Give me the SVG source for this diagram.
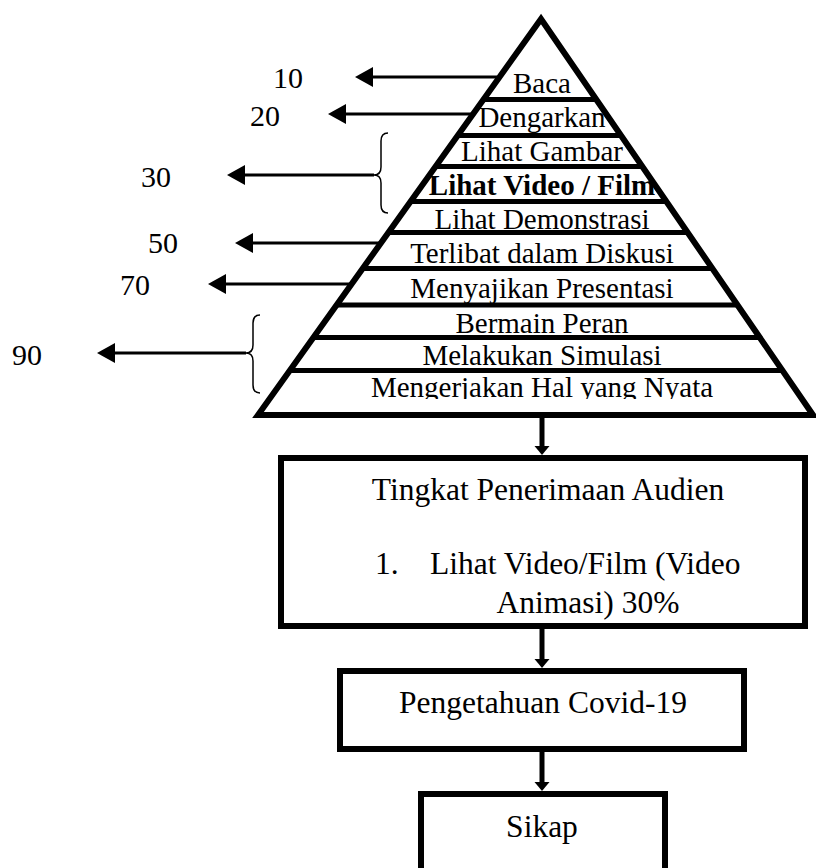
<svg xmlns="http://www.w3.org/2000/svg" width="816" height="868" viewBox="0 0 816 868">
<style>
text{font-family:"Liberation Serif","Times New Roman",serif;fill:#000}
.pt{font-size:29px;text-anchor:middle}
.bt{font-size:31.5px}
.num{font-size:30px;text-anchor:middle}
.band{stroke:#000;stroke-width:5;fill:none}
.box{fill:#fff;stroke:#000;stroke-width:6}
.arr{stroke:#000;stroke-width:3;fill:none;marker-end:url(#ah)}
.darr{stroke:#000;stroke-width:5;fill:none;marker-end:url(#dh)}
.brace{stroke:#000;stroke-width:1.5;fill:none}
</style>
<defs>
<marker id="ah" markerUnits="userSpaceOnUse" markerWidth="18" markerHeight="20" refX="0" refY="10" orient="auto" overflow="visible"><path d="M0,0 L18,10 L0,20 z" fill="#000"/></marker>
<marker id="dh" markerUnits="userSpaceOnUse" markerWidth="9" markerHeight="15" refX="0" refY="7.5" orient="auto" overflow="visible"><path d="M0,0 L9,7.5 L0,15 z" fill="#000"/></marker>
<clipPath id="lastClip"><rect x="250" y="372" width="570" height="27"/></clipPath>
</defs>
<rect width="816" height="868" fill="#fff"/>
<g id="pyramid">
<path d="M541,19 L813,415 L258,415 Z" fill="#fff" stroke="#000" stroke-width="6" stroke-linejoin="miter"/>
<line class="band" x1="483.5" y1="99.5" x2="596.3" y2="99.5"/>
<line class="band" x1="457.7" y1="135.5" x2="621" y2="135.5"/>
<line class="band" x1="435.6" y1="166.5" x2="642.3" y2="166.5"/>
<line class="band" x1="410.6" y1="201.5" x2="666.4" y2="201.5"/>
<line class="band" x1="388.4" y1="232.5" x2="687.7" y2="232.5"/>
<line class="band" x1="362.7" y1="268.5" x2="712.4" y2="268.5"/>
<line class="band" x1="336.6" y1="305" x2="737.5" y2="305"/>
<line class="band" x1="313.4" y1="337.5" x2="759.8" y2="337.5"/>
<line class="band" x1="289.8" y1="370.5" x2="782.4" y2="370.5"/>
<text class="pt" x="542" y="93">Baca</text>
<text class="pt" x="542" y="127">Dengarkan</text>
<text class="pt" x="542" y="161">Lihat Gambar</text>
<text class="pt" x="542" y="195" font-weight="bold">Lihat Video / Film</text>
<text class="pt" x="542" y="229">Lihat Demonstrasi</text>
<text class="pt" x="542" y="263">Terlibat dalam Diskusi</text>
<text class="pt" x="542" y="298">Menyajikan Presentasi</text>
<text class="pt" x="542" y="333">Bermain Peran</text>
<text class="pt" x="542" y="365">Melakukan Simulasi</text>
<text class="pt" x="542" y="397" clip-path="url(#lastClip)">Mengerjakan Hal yang Nyata</text>
</g>
<g id="labels">
<text class="num" x="288" y="88">10</text>
<text class="num" x="265" y="126">20</text>
<text class="num" x="156" y="187">30</text>
<text class="num" x="163" y="253">50</text>
<text class="num" x="135" y="295">70</text>
<text class="num" x="27" y="365">90</text>
<path class="brace" d="M388,133 Q381,133 381,141 L381,167 Q381,175 374,175 Q381,175 381,183 L381,205 Q381,213 388,213"/>
<path class="brace" d="M260,315 Q253,315 253,323 L253,345 Q253,353 246,353 Q253,353 253,361 L253,385 Q253,393 260,393"/>
</g>
<g id="tingkat">
<rect class="box" x="281" y="458" width="524" height="168"/>
<text class="bt" x="548" y="500" text-anchor="middle">Tingkat Penerimaan Audien</text>
<text class="bt" x="375" y="574">1.</text>
<text class="bt" x="430" y="574">Lihat Video/Film (Video</text>
<text class="bt" x="588" y="613" text-anchor="middle">Animasi) 30%</text>
</g>
<g id="pengetahuan">
<rect class="box" x="340" y="671" width="404" height="78"/>
<text class="bt" x="543" y="713" text-anchor="middle">Pengetahuan Covid-19</text>
</g>
<g id="sikap">
<rect class="box" x="421" y="794" width="244" height="110"/>
<text class="bt" x="542" y="837" text-anchor="middle">Sikap</text>
</g>
<g id="connectors">
<line class="arr" x1="497" y1="77" x2="373" y2="77"/>
<line class="arr" x1="471" y1="114" x2="346" y2="114"/>
<line class="arr" x1="374" y1="175" x2="245" y2="175"/>
<line class="arr" x1="379" y1="243" x2="253" y2="243"/>
<line class="arr" x1="350" y1="284" x2="226" y2="284"/>
<line class="arr" x1="246" y1="353" x2="115" y2="353"/>
<line class="darr" x1="542" y1="418" x2="542" y2="446"/>
<line class="darr" x1="542" y1="629" x2="542" y2="659"/>
<line class="darr" x1="542" y1="752" x2="542" y2="782"/>
</g>
</svg>
